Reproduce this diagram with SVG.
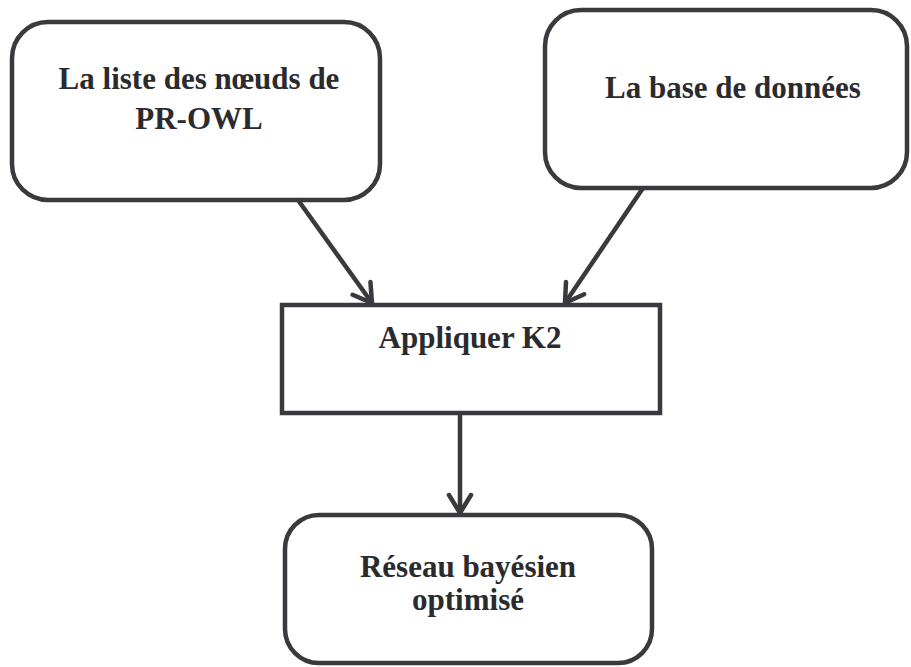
<svg xmlns="http://www.w3.org/2000/svg" width="911" height="667" viewBox="0 0 911 667">
  <defs>
    <style>
      .box { fill: #ffffff; stroke: #3a3a3e; stroke-width: 4.5; }
      .lbl { font-family: "Liberation Serif", "Times New Roman", serif; font-weight: bold; font-size: 31px; fill: #2b2b2e; text-anchor: middle; }
      .edge { fill: none; stroke: #3a3a3e; stroke-width: 4.5; }
    </style>
    <marker id="chevron" viewBox="0 0 28 28" refX="22" refY="14" markerWidth="28" markerHeight="28" markerUnits="userSpaceOnUse" orient="auto">
      <path d="M4,3 L22,14 L4,25" fill="none" stroke="#3a3a3e" stroke-width="4.5" stroke-linejoin="miter" stroke-linecap="round"/>
    </marker>
  </defs>
  <rect width="911" height="667" fill="#ffffff"/>

  <g id="liste-noeuds">
    <rect class="box" x="12" y="22" width="368" height="178" rx="36" ry="36"/>
    <text class="lbl" x="199" y="89">La liste des nœuds de</text>
    <text class="lbl" x="199" y="129">PR-OWL</text>
  </g>

  <g id="base-donnees">
    <rect class="box" x="545" y="10" width="362" height="178" rx="36" ry="36"/>
    <text class="lbl" x="733" y="98">La base de données</text>
  </g>

  <g id="appliquer-k2">
    <rect class="box" x="282" y="305" width="378" height="108"/>
    <text class="lbl" x="470" y="348">Appliquer K2</text>
  </g>

  <g id="reseau-optimise">
    <rect class="box" x="285" y="515" width="367" height="148" rx="34" ry="34"/>
    <text class="lbl" x="468" y="577">Réseau bayésien</text>
    <text class="lbl" x="468" y="610">optimisé</text>
  </g>

  <g id="connectors">
    <line class="edge" x1="298" y1="200" x2="372" y2="303" marker-end="url(#chevron)"/>
    <line class="edge" x1="643" y1="188" x2="565" y2="303" marker-end="url(#chevron)"/>
    <line class="edge" x1="460" y1="413" x2="460" y2="513" marker-end="url(#chevron)"/>
  </g>
</svg>
